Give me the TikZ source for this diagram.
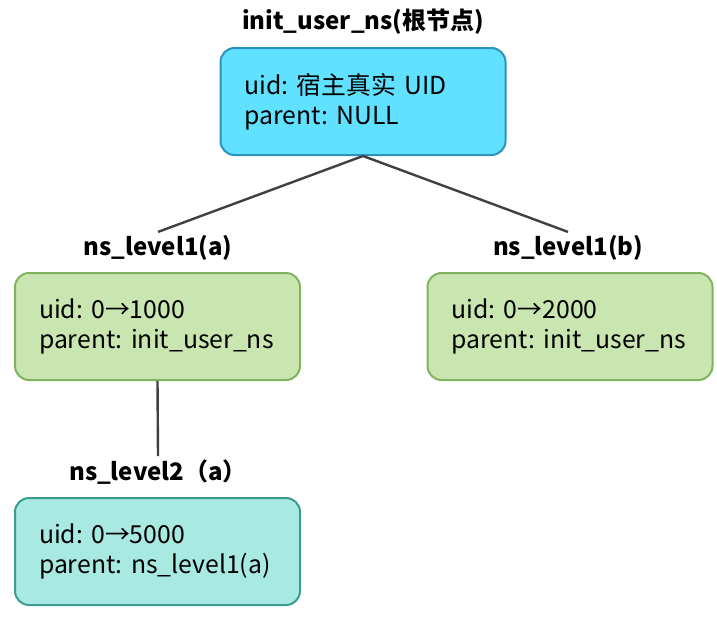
\documentclass[tikz,border=0pt]{standalone}
\usepackage{fontspec}
\setmainfont{Noto Sans CJK SC}
\usepackage{tikz}
\frenchspacing
\definecolor{rootfill}{HTML}{5FE1FF}
\definecolor{rootline}{HTML}{2C93BE}
\definecolor{grnfill}{HTML}{C9E6B1}
\definecolor{grnline}{HTML}{7FB35E}
\definecolor{tealfill}{HTML}{A8EAE2}
\definecolor{tealline}{HTML}{3A9C92}
\definecolor{linkgray}{HTML}{404040}

\begin{document}
\begin{tikzpicture}[x=1pt, y=-1pt,
  box/.style={draw, line width=2pt, rounded corners=14pt, minimum width=285pt,
    minimum height=107pt, text width=237pt, inner xsep=24pt, align=left,
    font=\fontsize{24.8}{30}\selectfont},
  lbl/.style={font=\bfseries\fontsize{24}{28}\selectfont},
  link/.style={draw=linkgray, line width=2.4pt}]
  \useasboundingbox (0,0) rectangle (717,616);
  % boxes
  \node[box, fill=rootfill, draw=rootline] (root) at (363,101.5) {uid: 宿主真实 UID\\parent: NULL};
  \node[box, fill=grnfill, draw=grnline] (nsA) at (157.5,326.5) {uid: 0→1000\\parent: init\_user\_ns};
  \node[box, fill=grnfill, draw=grnline] (nsB) at (570,326.5) {uid: 0→2000\\parent: init\_user\_ns};
  \node[box, fill=tealfill, draw=tealline] (nsAA) at (157.5,551.5) {uid: 0→5000\\parent: ns\_level1(a)};
  % titles
  \node[lbl] (rootlbl) at (363,22) {init\_user\_ns(根节点)};
  \node[lbl] (nsAlbl) at (158,248) {ns\_level1(a)};
  \node[lbl] (nsBlbl) at (568,248) {ns\_level1(b)};
  \node[lbl] (nsAAlbl) at (158,472) {ns\_level2（a）};
  % links
  \draw[link] (root.south) -- (nsAlbl.north);
  \draw[link] (root.south) -- (nsBlbl.north);
  \draw[link] (nsA.south) -- (nsAAlbl.north);
\end{tikzpicture}
\end{document}
